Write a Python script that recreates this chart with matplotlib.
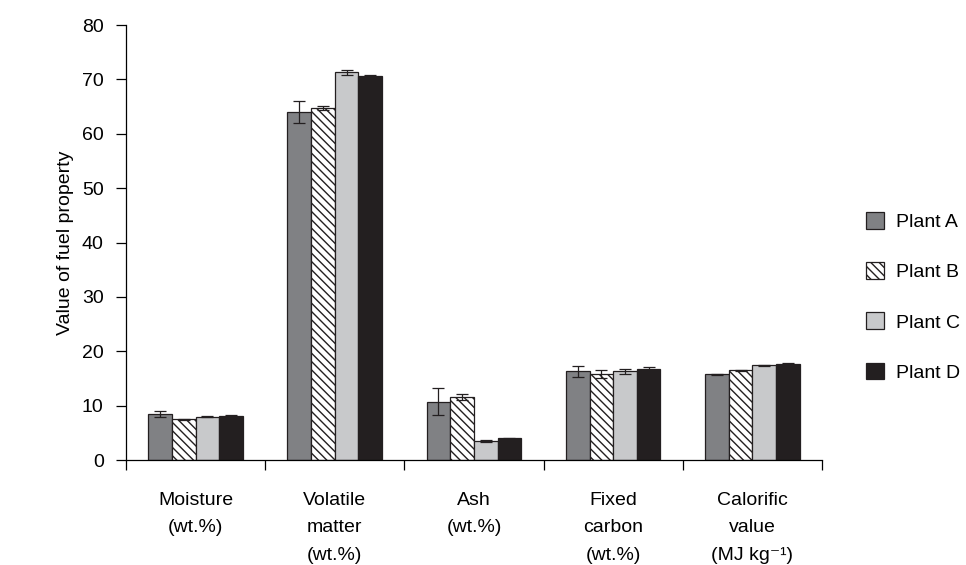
import numpy as np
import matplotlib
matplotlib.use("Agg")
import matplotlib.pyplot as plt

plt.rcParams["font.family"] = ["Liberation Sans", "DejaVu Sans"]
plt.rcParams["hatch.linewidth"] = 1.0

categories = [
    "Moisture\n(wt.%)",
    "Volatile\nmatter\n(wt.%)",
    "Ash\n(wt.%)",
    "Fixed\ncarbon\n(wt.%)",
    "Calorific\nvalue\n(MJ kg\u207b\u00b9)",
]
plants = ["Plant A", "Plant B", "Plant C", "Plant D"]

plant_a = [8.5, 64.0, 10.7, 16.3, 15.8]
plant_b = [7.5, 64.7, 11.6, 15.8, 16.5]
plant_c = [8.0, 71.3, 3.5, 16.3, 17.4]
plant_d = [8.1, 70.6, 4.0, 16.7, 17.7]

err_a = [0.5, 2.0, 2.5, 1.0, 0.1]
err_b = [0.1, 0.4, 0.5, 0.7, 0.1]
err_c = [0.1, 0.4, 0.1, 0.5, 0.1]
err_d = [0.1, 0.2, 0.1, 0.4, 0.1]

values = [plant_a, plant_b, plant_c, plant_d]
errors = [err_a, err_b, err_c, err_d]
colors = ["#808184", "white", "#c8c9cb", "#231f20"]
hatches = [None, "\\\\\\\\", None, None]

fig = plt.figure(figsize=(9.66, 5.65), dpi=100)
ax = fig.add_axes([0.1304, 0.1858, 0.7205, 0.7699])

x = np.arange(len(categories))
width = 0.17
for i in range(4):
    pos = x + (i - 1.5) * width
    ax.bar(pos, values[i], width, color=colors[i], edgecolor="#231f20",
           linewidth=0.9, hatch=hatches[i], label=plants[i], zorder=2)
    ax.errorbar(pos, values[i], yerr=errors[i], fmt="none", ecolor="#231f20",
                elinewidth=0.9, capsize=4, capthick=0.9, zorder=3)

ax.set_xlim(-0.5, len(categories) - 0.5)
ax.set_ylim(0, 80)
ax.set_yticks(range(0, 81, 10))
ax.set_xticks(x)
ax.set_xticklabels(categories, fontsize=14, linespacing=1.8, va="top")
ax.set_xticks(np.arange(-0.5, len(categories)), minor=True)
ax.tick_params(axis="x", which="major", length=0, pad=23)
ax.tick_params(axis="x", which="minor", length=7, width=0.9, direction="out")
ax.tick_params(axis="y", length=7, width=0.9, labelsize=14, pad=9)

for s in ["top", "right"]:
    ax.spines[s].set_visible(False)
ax.spines["left"].set_linewidth(0.9)
ax.spines["bottom"].set_linewidth(0.9)

ax.set_ylabel("Value of fuel property", fontsize=14, labelpad=6)

ax.legend(loc="center left", bbox_to_anchor=(1.063, 0.375), frameon=False,
          fontsize=14, handlelength=0.95, handleheight=0.95, labelspacing=1.6,
          handletextpad=0.6, borderpad=0, borderaxespad=0)

fig.savefig("out.png", dpi=100)
